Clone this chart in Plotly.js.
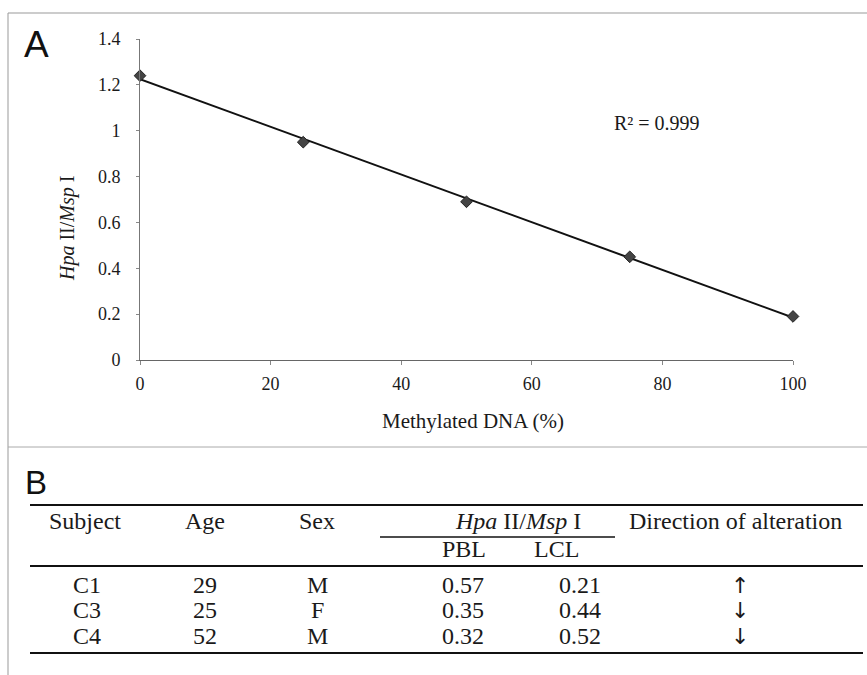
<!DOCTYPE html>
<html>
<head>
<meta charset="utf-8">
<script src="https://cdn.plot.ly/plotly-3.0.1.min.js"></script>
<style>html,body{margin:0;padding:0;background:#fff;}#chart{width:867px;height:675px;}</style>
</head>
<body>
<div id="chart"></div>
<script>
// ---- Panel A data ----
const methylatedPct = [0, 25, 50, 75, 100];
const hpaMspRatio = [1.24, 0.95, 0.69, 0.45, 0.19];
const fitX = [0, 100];
const fitY = [1.225, 0.185];
const rSquaredText = 'R² = 0.999';
const xTickVals = [0, 20, 40, 60, 80, 100];
const yTickVals = [0, 0.2, 0.4, 0.6, 0.8, 1, 1.2, 1.4];

// ---- Panel B table data ----
const headerTop = ['Subject', 'Age', 'Sex', '<i>Hpa</i> II/<i>Msp</i> I', 'Direction of alteration'];
const headerSub = ['PBL', 'LCL'];
const subjects = ['C1', 'C3', 'C4'];
const ages = ['29', '25', '52'];
const sexes = ['M', 'F', 'M'];
const pblValues = ['0.57', '0.35', '0.32'];
const lclValues = ['0.21', '0.44', '0.52'];
const directions = ['↑', '↓', '↓'];

const W = 867, H = 675;
const px = x => x / W;
const py = y => 1 - y / H;
const serif = 'Liberation Serif, Times New Roman, serif';
const txt = '#1a1a1a';

const traces = [
  {
    x: fitX, y: fitY, type: 'scatter', mode: 'lines',
    line: {color: '#111', width: 2}, hoverinfo: 'skip', showlegend: false, cliponaxis: false
  },
  {
    x: methylatedPct, y: hpaMspRatio, type: 'scatter', mode: 'markers',
    marker: {symbol: 'diamond', size: 9, color: '#444', line: {color: '#222', width: 1}},
    showlegend: false, cliponaxis: false
  }
];

const annotations = [];
function ann(text, x, y, size, opts) {
  annotations.push(Object.assign({
    text: text, xref: 'paper', yref: 'paper', x: px(x), y: py(y),
    xanchor: 'center', yanchor: 'middle', showarrow: false,
    font: {family: serif, size: size, color: txt}
  }, opts || {}));
}
// panel letters
ann('A', 36, 44, 37, {font: {family: 'Liberation Sans, Arial, sans-serif', size: 37, color: '#111'}});
ann('B', 36, 483, 33, {font: {family: 'Liberation Sans, Arial, sans-serif', size: 33, color: '#111'}});
// axis titles
ann('Methylated DNA (%)', 473, 421, 21);
ann('<i>Hpa</i> II/<i>Msp</i> I', 67, 229, 20, {textangle: -90});
// R squared
annotations.push({text: rSquaredText, xref: 'x', yref: 'y', x: 79.2, y: 1.034, showarrow: false,
  xanchor: 'center', yanchor: 'middle', font: {family: serif, size: 20, color: txt}});

// table
const tableFont = 24;
const topColX = [85, 205, 317, 518, 735];
headerTop.forEach((h, i) => ann(h, topColX[i], 521, tableFont));
const subColX = [464, 556];
headerSub.forEach((h, i) => ann(h, subColX[i], 549, tableFont));
const rowY = [585, 610, 636];
const dataColX = [87, 205, 317, 463, 580, 740];
subjects.forEach((s, r) => {
  const row = [s, ages[r], sexes[r], pblValues[r], lclValues[r]];
  row.forEach((v, c) => ann(v, dataColX[c], rowY[r], tableFont));
  ann(directions[r], dataColX[5], rowY[r], 22, {font: {family: 'DejaVu Sans, sans-serif', size: 22, color: txt}});
});

function hline(x0, x1, y, w, color) {
  return {type: 'line', xref: 'paper', yref: 'paper', x0: px(x0), x1: px(x1), y0: py(y), y1: py(y),
    line: {color: color || '#111', width: w}};
}
const shapes = [
  // frame
  hline(8, 867, 13, 1, '#999'),
  {type: 'line', xref: 'paper', yref: 'paper', x0: px(8), x1: px(8), y0: py(13), y1: 0, line: {color: '#999', width: 1}},
  hline(8, 867, 447, 1, '#aaa'),
  // table rules
  hline(30, 863, 505, 2),
  hline(380, 615, 537, 1.5),
  hline(30, 863, 566, 2),
  hline(30, 863, 653, 2)
];

const layout = {
  width: W, height: H,
  margin: {l: 0, r: 0, t: 0, b: 0},
  paper_bgcolor: '#fff', plot_bgcolor: '#fff',
  showlegend: false,
  xaxis: {
    domain: [px(140), px(793)], range: [0, 100], tickvals: xTickVals,
    showline: true, linecolor: '#666', linewidth: 1, mirror: false,
    ticks: 'outside', ticklen: 4, tickcolor: '#888', showgrid: false, zeroline: false,
    ticklabelstandoff: 3,
    tickfont: {family: serif, size: 18, color: txt}, anchor: 'y'
  },
  yaxis: {
    domain: [py(360), py(39)], range: [0, 1.4], tickvals: yTickVals,
    showline: true, linecolor: '#777', linewidth: 1,
    ticks: 'outside', ticklen: 3, tickcolor: '#888', showgrid: false, zeroline: false,
    ticklabelstandoff: 12,
    tickfont: {family: serif, size: 18, color: txt}, anchor: 'x'
  },
  annotations: annotations,
  shapes: shapes
};

Plotly.newPlot('chart', traces, layout, {displayModeBar: false, staticPlot: true});
</script>
</body>
</html>
